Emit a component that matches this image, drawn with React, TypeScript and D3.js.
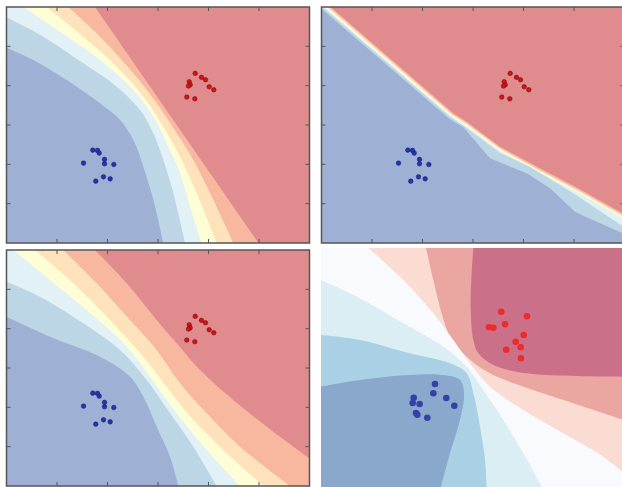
import * as d3 from 'd3';

type Pt = [number, number];

// tick positions shared by the three framed panels
const xTicks = [-2, -1, 0, 1, 2];
const yTicks = [-2, -1, 0, 1, 2];

// training points (panels 1-3)
const redPoints: Pt[] = [
  [0.737, 1.313], [0.861, 1.211], [0.941, 1.15], [0.618, 1.1], [0.638, 1.023],
  [0.604, 0.99], [1.014, 0.972], [1.105, 0.896], [0.57, 0.71], [0.729, 0.667],
];
const bluePoints: Pt[] = [
  [-1.291, -0.639], [-1.198, -0.646], [-1.164, -0.715], [-1.475, -0.969], [-1.059, -0.875],
  [-1.059, -0.987], [-0.875, -1.003], [-1.079, -1.318], [-0.947, -1.369], [-1.232, -1.427],
];

// points of the fourth panel
const redPoints4: Pt[] = [
  [0.57, 1.421], [1.079, 1.306], [0.644, 1.108], [0.327, 1.034], [0.412, 1.024],
  [1.014, 0.843], [0.855, 0.677], [0.954, 0.538], [0.669, 0.478], [0.96, 0.265],
];
const bluePoints4: Pt[] = [
  [-0.743, -0.372], [-0.776, -0.603], [-0.519, -0.719], [-1.164, -0.712], [-1.184, -0.843],
  [-1.046, -0.868], [-0.36, -0.91], [-1.119, -1.091], [-1.093, -1.133], [-0.895, -1.208],
];

// level lines, red side first
const levels1: Pt[][] = [
  [[-1.248, 3], [1.987, -3]],
  [[-1.776, 3], [-1.149, 2.246], [-0.488, 1.314], [-0.026, 0.551], [0.37, -0.212], [0.7, -0.89], [1.096, -1.907], [1.492, -3]],
  [[-2.205, 3], [-1.479, 2.246], [-0.818, 1.483], [-0.29, 0.72], [0.106, -0.042], [0.436, -0.805], [0.766, -1.737], [1.162, -3]],
  [[-2.667, 3], [-1.941, 2.373], [-1.149, 1.653], [-0.488, 0.89], [-0.092, 0.212], [0.172, -0.466], [0.436, -1.229], [0.634, -2.076], [0.865, -3]],
  [[-3, 2.737], [-2.271, 2.246], [-1.479, 1.568], [-0.818, 0.975], [-0.356, 0.381], [-0.092, -0.212], [0.106, -0.89], [0.304, -1.737], [0.535, -3]],
  [[-3, 1.966], [-2.469, 1.653], [-1.809, 1.144], [-1.149, 0.551], [-0.752, 0.127], [-0.488, -0.381], [-0.29, -1.059], [-0.092, -1.907], [0.106, -3]],
];

const levels2: Pt[][] = [
  [[-2.818, 3], [-0.389, 0.297], [-0.125, 0.085], [0.535, -0.551], [1.327, -1.102], [2.119, -1.636], [3, -2.271]],
  [[-2.858, 3], [-0.402, 0.272], [-0.138, 0.06], [0.535, -0.585], [1.327, -1.144], [2.119, -1.678], [3, -2.313]],
  [[-2.898, 3], [-0.415, 0.246], [-0.151, 0.034], [0.535, -0.619], [1.327, -1.178], [2.119, -1.712], [3, -2.355]],
  [[-2.938, 3], [-0.428, 0.22], [-0.164, 0.008], [0.535, -0.653], [1.327, -1.212], [2.119, -1.746], [3, -2.397]],
  [[-2.978, 3], [-0.442, 0.195], [-0.178, -0.025], [0.535, -0.703], [1.129, -1.059], [1.987, -1.737], [3, -2.602]],
  [[-3, 2.958], [-0.469, 0.161], [-0.192, -0.059], [0.337, -0.847], [1.063, -1.229], [1.525, -1.61], [2.02, -2.203], [2.152, -2.288], [3, -2.771]],
];

const levels3: Pt[][] = [
  [[-1.248, 3], [-0.62, 2.153], [-0.026, 1.22], [0.37, 0.627], [0.832, -0.051], [1.492, -0.814], [2.152, -1.492], [3, -2.297]],
  [[-1.875, 3], [-1.215, 2.153], [-0.554, 1.22], [-0.026, 0.458], [0.436, -0.39], [0.964, -1.153], [1.624, -2.0], [2.614, -3]],
  [[-2.436, 3], [-1.677, 2.153], [-0.95, 1.22], [-0.29, 0.288], [0.172, -0.475], [0.7, -1.322], [1.36, -2.169], [2.086, -3]],
  [[-2.865, 3], [-2.139, 2.237], [-1.413, 1.475], [-0.62, 0.542], [-0.158, -0.22], [0.37, -1.153], [0.964, -2.085], [1.624, -3]],
  [[-3, 2.195], [-2.337, 1.814], [-1.479, 1.136], [-0.752, 0.458], [-0.224, -0.305], [0.238, -1.153], [0.7, -2.0], [1.162, -3]],
  [[-3, 1.305], [-2.139, 0.797], [-1.149, 0.288], [-0.554, -0.22], [-0.29, -0.729], [-0.026, -1.492], [0.238, -2.254], [0.403, -3]],
];

const levels4: Pt[][] = [
  [[0.017, 3], [-0.017, 2.372], [-0.036, 1.545], [0.017, 0.719], [0.116, 0.388], [0.413, 0.099], [1.073, -0.107], [2.063, -0.174], [3, -0.19]],
  [[-0.921, 3], [-0.776, 2.207], [-0.611, 1.38], [-0.446, 0.802], [-0.116, 0.306], [0.347, -0.107], [1.007, -0.438], [1.799, -0.769], [3, -1.264]],
  [[-2.063, 3], [-1.37, 2.207], [-0.776, 1.38], [-0.38, 0.719], [-0.05, 0.14], [0.347, -0.438], [1.007, -1.017], [1.799, -1.595], [2.591, -2.174], [3, -2.587]],
  [[-3, 2.207], [-2.228, 1.752], [-1.37, 1.132], [-0.578, 0.554], [-0.116, 0.058], [0.215, -0.521], [0.611, -1.264], [1.007, -2.091], [1.403, -3]],
  [[-3, 0.843], [-2.228, 0.719], [-1.238, 0.388], [-0.446, 0.14], [-0.116, -0.107], [0.017, -0.603], [0.149, -1.43], [0.248, -2.256], [0.281, -3]],
  [[-3, -0.438], [-2.228, -0.273], [-1.238, -0.149], [-0.578, -0.149], [-0.248, -0.273], [-0.168, -0.603], [-0.248, -1.264], [-0.446, -2.091], [-0.644, -3]],
];

const bandColors = ['#e08b8d', '#f8b8a0', '#fde2bb', '#fefed6', '#e1f1f6', '#bdd6e6', '#9eb0d4'];
const bandColors4 = ['#ca7088', '#eba6a1', '#fadcd3', '#f8fafd', '#dbeef3', '#a9d0e4', '#8aa8cb'];

type PanelProps = {
  id: string;
  left: number;
  top: number;
  width: number;
  height: number;
  levels: Pt[][];
  colors: string[];
  red: Pt[];
  blue: Pt[];
  smooth: boolean;
  framed: boolean;
  big?: boolean;
};

function Panel({ id, left, top, width, height, levels, colors, red, blue, smooth, framed, big }: PanelProps) {
  const x = d3.scaleLinear().domain([-3, 3]).range([left, left + width]);
  const y = d3.scaleLinear().domain([-3, 3]).range([top + height, top]);

  const line = d3
    .line<Pt>()
    .x((d) => x(d[0]))
    .y((d) => y(d[1]))
    .curve(smooth ? d3.curveCatmullRom.alpha(0.5) : d3.curveLinear);

  // close each level line round the blue (lower-left) corner
  const close = `L${x(3)},${y(-3)}L${x(-3)},${y(-3)}L${x(-3)},${y(3)}Z`;
  const tl = 4;

  return (
    <g>
      <defs>
        <clipPath id={id}>
          <rect x={left} y={top} width={width} height={height} />
        </clipPath>
      </defs>
      <g clipPath={`url(#${id})`}>
        <rect x={left} y={top} width={width} height={height} fill={colors[0]} />
        {levels.map((pts, i) => (
          <path key={i} d={(line(pts) ?? '') + close} fill={colors[i + 1]} />
        ))}
        {red.map((d, i) => (
          <circle
            key={'r' + i}
            cx={x(d[0])}
            cy={y(d[1])}
            r={big ? 3.3 : 2.3}
            fill={big ? '#ee2b2b' : '#cc1518'}
            stroke={big ? 'none' : '#7d0a0a'}
            strokeWidth={0.5}
          />
        ))}
        {blue.map((d, i) => (
          <circle
            key={'b' + i}
            cx={x(d[0])}
            cy={y(d[1])}
            r={big ? 3.3 : 2.3}
            fill={big ? '#3242a8' : '#2236aa'}
            stroke={big ? 'none' : '#101c70'}
            strokeWidth={0.5}
          />
        ))}
      </g>
      {framed && (
        <g stroke="#555" strokeWidth={1}>
          {xTicks.map((t) => (
            <g key={'x' + t}>
              <line x1={x(t)} x2={x(t)} y1={top + height} y2={top + height - tl} />
              <line x1={x(t)} x2={x(t)} y1={top} y2={top + tl} />
            </g>
          ))}
          {yTicks.map((t) => (
            <g key={'y' + t}>
              <line x1={left} x2={left + tl} y1={y(t)} y2={y(t)} />
              <line x1={left + width} x2={left + width - tl} y1={y(t)} y2={y(t)} />
            </g>
          ))}
          <rect x={left} y={top} width={width} height={height} fill="none" strokeWidth={1.5} />
        </g>
      )}
    </g>
  );
}

export default function App() {
  return (
    <svg
      width={622}
      height={487}
      style={{ position: 'absolute', left: 0, top: 0, background: '#fff', display: 'block' }}
    >
      <Panel id="c1" left={6.5} top={7} width={303} height={236} levels={levels1} colors={bandColors}
        red={redPoints} blue={bluePoints} smooth framed />
      <Panel id="c2" left={321.5} top={7} width={303} height={236} levels={levels2} colors={bandColors}
        red={redPoints} blue={bluePoints} smooth={false} framed />
      <Panel id="c3" left={6.5} top={250} width={303} height={236} levels={levels3} colors={bandColors}
        red={redPoints} blue={bluePoints} smooth framed />
      <Panel id="c4" left={321} top={248} width={303} height={242} levels={levels4} colors={bandColors4}
        red={redPoints4} blue={bluePoints4} smooth framed={false} big />
    </svg>
  );
}
